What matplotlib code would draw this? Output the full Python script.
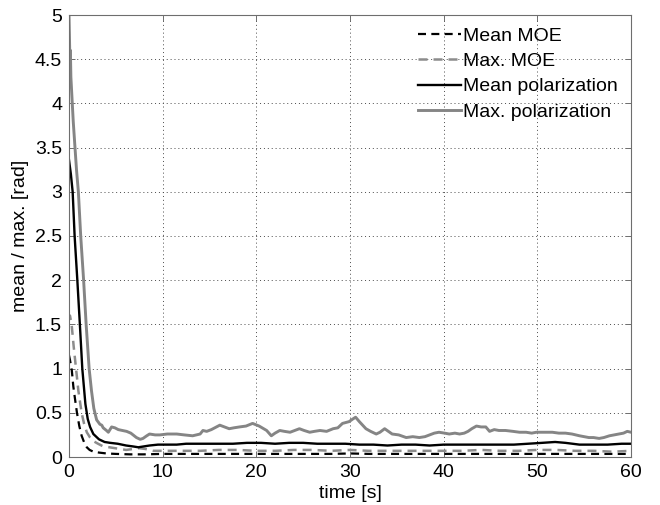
import matplotlib
matplotlib.use("Agg")
import matplotlib.pyplot as plt
from matplotlib.ticker import FormatStrFormatter

plt.rcParams['font.family'] = ['Liberation Sans', 'DejaVu Sans']

# --- data -----------------------------------------------------------------
# Mean MOE
t_mean_moe = [0, 0.1, 0.3, 0.46, 0.65, 0.85, 1.1, 1.35, 1.6, 1.9,
              2.2, 2.6, 3.2, 4.0, 5.0, 6.5, 8.0, 10.0, 12.0, 14.0,
              16.0, 18.0, 20.0, 22.0, 24.0, 26.0, 28.0, 30.0, 32.0, 34.0,
              36.0, 38.0, 40.0, 42.0, 44.0, 46.0, 48.0, 50.0, 52.0, 54.0,
              56.0, 58.0, 60.0]
v_mean_moe = [1.15, 1.1, 0.98, 0.8, 0.65, 0.5, 0.35, 0.24, 0.17, 0.11,
              0.08, 0.06, 0.05, 0.04, 0.035, 0.03, 0.03, 0.035, 0.035, 0.035,
              0.035, 0.035, 0.035, 0.035, 0.035, 0.035, 0.035, 0.04, 0.035, 0.035,
              0.035, 0.035, 0.035, 0.035, 0.035, 0.035, 0.035, 0.035, 0.035, 0.035,
              0.035, 0.035, 0.035]

# Max. MOE
t_max_moe = [0, 0.1, 0.28, 0.5, 0.7, 1.0, 1.35, 1.6, 1.9, 2.25,
             2.6, 3.1, 3.65, 4.3, 4.9, 5.5, 6.1, 6.8, 7.5, 8.2,
             9.0, 10.0, 12.0, 14.0, 16.0, 18.0, 20.0, 22.0, 24.0, 26.0,
             28.0, 30.0, 32.0, 34.0, 36.0, 38.0, 40.0, 42.0, 44.0, 46.0,
             48.0, 50.0, 52.0, 54.0, 56.0, 58.0, 60.0]
v_max_moe = [1.55, 1.6, 1.5, 1.25, 1.05, 0.75, 0.5, 0.38, 0.28, 0.22,
             0.18, 0.15, 0.12, 0.11, 0.10, 0.09, 0.08, 0.09, 0.10, 0.09,
             0.07, 0.07, 0.07, 0.07, 0.08, 0.08, 0.07, 0.07, 0.08, 0.08,
             0.07, 0.08, 0.07, 0.07, 0.07, 0.07, 0.07, 0.07, 0.08, 0.07,
             0.07, 0.08, 0.08, 0.07, 0.07, 0.06, 0.07]

# Mean polarization
t_mean_pol = [0, 0.2, 0.39, 0.6, 0.89, 1.16, 1.42, 1.75, 2.0, 2.25,
              2.6, 3.2, 3.8, 4.4, 5.2, 6.1, 6.8, 7.4, 8.0, 8.6,
              9.5, 10.5, 11.5, 12.5, 13.5, 14.7, 16.0, 17.5, 19.0, 20.5,
              22.0, 23.5, 25.0, 26.5, 28.0, 29.5, 31.0, 32.5, 34.0, 35.5,
              37.0, 38.5, 40.0, 41.5, 43.0, 44.5, 46.0, 47.5, 49.0, 50.5,
              51.9, 53.0, 54.5, 56.0, 57.5, 59.0, 60.0]
v_mean_pol = [3.36, 3.2, 3.0, 2.5, 2.0, 1.5, 1.0, 0.6, 0.43, 0.34,
              0.26, 0.20, 0.17, 0.16, 0.15, 0.13, 0.12, 0.11, 0.12, 0.13,
              0.14, 0.14, 0.14, 0.15, 0.15, 0.15, 0.15, 0.15, 0.16, 0.16,
              0.15, 0.16, 0.16, 0.15, 0.15, 0.15, 0.14, 0.14, 0.13, 0.14,
              0.14, 0.13, 0.14, 0.14, 0.14, 0.14, 0.14, 0.14, 0.15, 0.16,
              0.17, 0.16, 0.14, 0.14, 0.14, 0.15, 0.15]

# Max. polarization
t_max_pol = [0, 0.05, 0.1, 0.15, 0.2, 0.3, 0.45, 0.64, 0.8, 1.0,
             1.25, 1.56, 1.83, 2.15, 2.4, 2.65, 2.95, 3.3, 3.5, 3.65,
             4.0, 4.2, 4.55, 4.9, 5.26, 5.7, 6.15, 6.6, 7.2, 7.6,
             7.9, 8.3, 8.6, 9.2, 9.7, 10.5, 11.5, 12.3, 13.2, 14.0,
             14.3, 14.7, 15.2, 16.1, 16.6, 17.1, 17.6, 18.2, 18.9, 19.6,
             20.3, 21.1, 21.6, 22.0, 22.5, 23.0, 23.6, 24.1, 24.6, 25.1,
             25.7, 26.2, 26.8, 27.5, 28.2, 28.7, 29.2, 29.9, 30.3, 30.6,
             31.0, 31.7, 32.2, 32.8, 33.2, 33.7, 34.1, 34.5, 35.2, 36.0,
             36.7, 37.4, 38.0, 38.5, 39.0, 39.5, 40.1, 40.6, 41.2, 41.7,
             42.2, 42.6, 43.0, 43.5, 44.0, 44.5, 44.9, 45.4, 45.9, 46.6,
             47.4, 48.1, 48.8, 49.4, 49.9, 50.7, 51.6, 52.3, 53.0, 53.7,
             54.5, 55.0, 55.5, 56.0, 56.6, 57.1, 57.7, 58.2, 58.7, 59.2,
             59.6, 60.0]
v_max_pol = [5.0, 4.75, 4.45, 4.6, 4.3, 4.1, 3.8, 3.5, 3.25, 3.0,
             2.5, 2.0, 1.5, 1.0, 0.75, 0.55, 0.42, 0.37, 0.36, 0.33,
             0.30, 0.28, 0.34, 0.33, 0.31, 0.30, 0.29, 0.27, 0.22, 0.20,
             0.21, 0.24, 0.26, 0.25, 0.25, 0.26, 0.26, 0.25, 0.24, 0.26,
             0.30, 0.29, 0.31, 0.36, 0.34, 0.32, 0.33, 0.34, 0.35, 0.38,
             0.35, 0.30, 0.24, 0.27, 0.30, 0.29, 0.28, 0.30, 0.32, 0.30,
             0.28, 0.29, 0.30, 0.29, 0.32, 0.33, 0.38, 0.40, 0.43, 0.45,
             0.40, 0.32, 0.29, 0.26, 0.28, 0.32, 0.29, 0.26, 0.25, 0.22,
             0.23, 0.22, 0.23, 0.25, 0.27, 0.28, 0.27, 0.26, 0.27, 0.26,
             0.27, 0.29, 0.32, 0.35, 0.34, 0.34, 0.29, 0.31, 0.30, 0.30,
             0.29, 0.28, 0.28, 0.27, 0.28, 0.28, 0.28, 0.27, 0.27, 0.26,
             0.24, 0.23, 0.22, 0.22, 0.21, 0.22, 0.24, 0.25, 0.26, 0.27,
             0.29, 0.28]

labels = ['Mean MOE', 'Max. MOE', 'Mean polarization', 'Max. polarization']
x_ticks = [0, 10, 20, 30, 40, 50, 60]
y_ticks = [0, 0.5, 1, 1.5, 2, 2.5, 3, 3.5, 4, 4.5, 5]

# --- figure ---------------------------------------------------------------
W, H = 660, 505
fig = plt.figure(figsize=(W / 100, H / 100), dpi=100)
ax = fig.add_axes([69 / W, 1 - 457 / H, (631 - 69) / W, (457 - 15) / H])

dash = (0, (3.6, 2.4))
ax.plot(t_mean_moe, v_mean_moe, color='black', lw=1.6, linestyle=dash, label=labels[0])
ax.plot(t_max_moe, v_max_moe, color='#8c8c8c', lw=1.8, linestyle=dash, label=labels[1])
ax.plot(t_mean_pol, v_mean_pol, color='black', lw=1.7, label=labels[2])
ax.plot(t_max_pol, v_max_pol, color='#858585', lw=2.1, label=labels[3])

ax.set_xlim(0, 60)
ax.set_ylim(0, 5)
ax.set_xticks(x_ticks)
ax.set_yticks(y_ticks)
ax.yaxis.set_major_formatter(FormatStrFormatter('%g'))

ax.grid(True, linestyle=(0, (1, 3)), color='#4a4a4a', lw=0.7)
ax.set_axisbelow(True)
for s in ax.spines.values():
    s.set_color('#6e6e6e')
    s.set_linewidth(0.8)
ax.tick_params(direction='in', length=4, width=0.7, color='#6e6e6e',
               top=True, right=True, labelsize=14, pad=5)

ax.set_xlabel('time [s]', fontsize=14, labelpad=3)
ax.set_ylabel('mean / max. [rad]', fontsize=14, labelpad=4)

ax.legend(loc='upper left', bbox_to_anchor=(418 / W, 1 - 27 / H),
          bbox_transform=fig.transFigure, frameon=False, fontsize=14,
          handlelength=2.2, handletextpad=0.1, labelspacing=0.4,
          borderpad=0, borderaxespad=0)

fig.savefig('out.png', dpi=100)
